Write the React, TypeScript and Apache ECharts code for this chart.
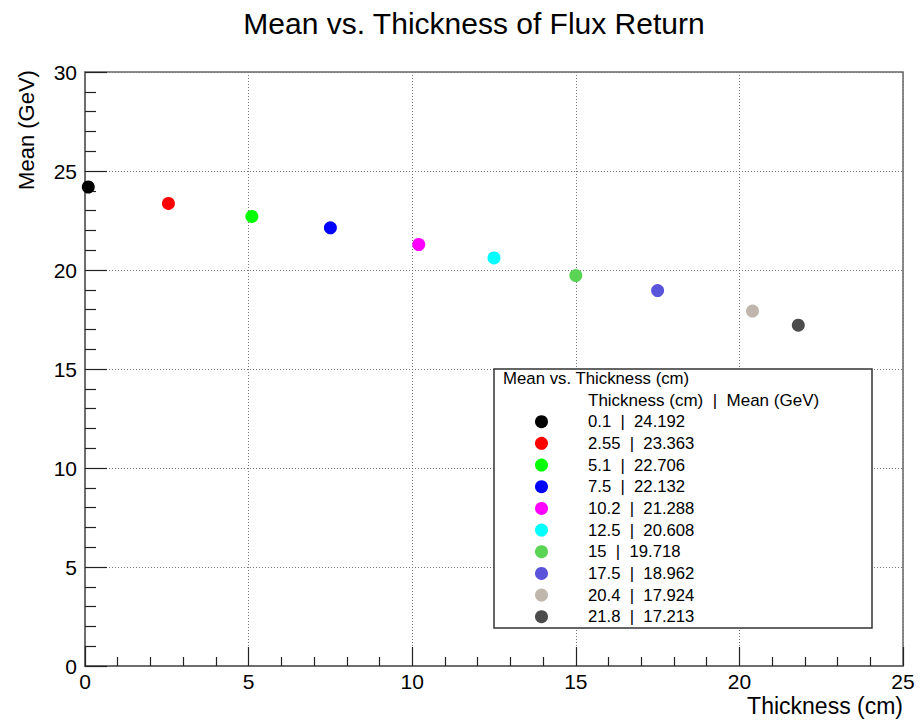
import React, { useEffect, useRef } from "react";
import * as echarts from "echarts";

const chartTitle = "Mean vs. Thickness of Flux Return";
const xAxisTitle = "Thickness (cm)";
const yAxisTitle = "Mean (GeV)";
const legendTitle = "Mean vs. Thickness (cm)";
const legendHeader = "Thickness (cm)  |  Mean (GeV)";

const thickness = [0.1, 2.55, 5.1, 7.5, 10.2, 12.5, 15, 17.5, 20.4, 21.8];
const meanGeV = [24.192, 23.363, 22.706, 22.132, 21.288, 20.608, 19.718, 18.962, 17.924, 17.213];
const markerColors = [
  "#000000",
  "#ff0000",
  "#00ff00",
  "#0000ff",
  "#ff00ff",
  "#00ffff",
  "#59d454",
  "#5954d9",
  "#c0b6ac",
  "#4c4c4c",
];

const xMin = 0;
const xMax = 25;
const yMin = 0;
const yMax = 30;
const majorStep = 5;

const FONT = "'Liberation Sans', Arial, Helvetica, sans-serif";

export default function App() {
  const ref = useRef<HTMLDivElement | null>(null);

  useEffect(() => {
    if (!ref.current) return;
    const chart = echarts.init(ref.current, undefined, { renderer: "svg" });

    const gridLeft = 85;
    const gridTop = 72;
    const gridRight = 922 - 903;
    const gridBottom = 723 - 666;

    // legend layout
    const boxX = 494;
    const boxY = 369;
    const boxW = 378;
    const boxH = 259;
    const rowY0 = 421.7;
    const rowStep = 21.67;
    const markerX = 541.5;
    const textX = 588;

    const legendElems: any[] = [
      {
        type: "rect",
        shape: { x: boxX, y: boxY, width: boxW, height: boxH },
        style: { fill: "#ffffff", stroke: "#333333", lineWidth: 1.5 },
        z: 100,
      },
      {
        type: "text",
        x: 503,
        y: 378.5,
        style: {
          text: legendTitle,
          fill: "#000",
          font: `16.8px ${FONT}`,
          textAlign: "left",
          textVerticalAlign: "middle",
        },
        z: 101,
      },
      {
        type: "text",
        x: textX,
        y: 400,
        style: {
          text: legendHeader,
          fill: "#000",
          font: `17px ${FONT}`,
          textAlign: "left",
          textVerticalAlign: "middle",
        },
        z: 101,
      },
    ];
    thickness.forEach((t, i) => {
      const cy = rowY0 + i * rowStep;
      legendElems.push({
        type: "circle",
        shape: { cx: markerX, cy, r: 6.5 },
        style: { fill: markerColors[i] },
        z: 101,
      });
      legendElems.push({
        type: "text",
        x: textX,
        y: cy,
        style: {
          text: `${t}  |  ${meanGeV[i]}`,
          fill: "#000",
          font: `16.7px ${FONT}`,
          textAlign: "left",
          textVerticalAlign: "middle",
        },
        z: 101,
      });
    });

    const option: any = {
      animation: false,
      backgroundColor: "#ffffff",
      textStyle: { fontFamily: FONT },
      grid: {
        left: gridLeft,
        top: gridTop,
        right: gridRight,
        bottom: gridBottom,
        show: true,
        borderColor: "#666666",
        borderWidth: 1.5,
        backgroundColor: "transparent",
      },
      xAxis: {
        type: "value",
        min: xMin,
        max: xMax,
        interval: majorStep,
        axisLine: { show: true, onZero: false, lineStyle: { color: "#666666", width: 1.5 } },
        axisTick: { show: true, inside: true, length: 19, lineStyle: { color: "#222222", width: 1.2 } },
        minorTick: { show: true, splitNumber: 5, length: 9, lineStyle: { color: "#222222", width: 1.2 } },
        splitLine: { show: true, lineStyle: { color: "#777777", type: [1, 2], width: 1 } },
        axisLabel: { color: "#000", fontSize: 21, margin: 5, fontFamily: FONT },
      },
      yAxis: {
        type: "value",
        min: yMin,
        max: yMax,
        interval: majorStep,
        axisLine: { show: true, onZero: false, lineStyle: { color: "#666666", width: 1.5 } },
        axisTick: { show: true, inside: true, length: 22, lineStyle: { color: "#222222", width: 1.2 } },
        minorTick: { show: true, splitNumber: 5, length: 11, lineStyle: { color: "#222222", width: 1.2 } },
        splitLine: { show: true, lineStyle: { color: "#777777", type: [1, 2], width: 1 } },
        axisLabel: { color: "#000", fontSize: 21, margin: 8, fontFamily: FONT },
      },
      series: [
        {
          type: "scatter",
          symbol: "circle",
          symbolSize: 13,
          itemStyle: { opacity: 1 },
          emphasis: { disabled: true },
          data: thickness.map((t, i) => ({
            value: [t, meanGeV[i]],
            itemStyle: { color: markerColors[i], opacity: 1 },
          })),
          z: 5,
        },
      ],
      graphic: [
        {
          type: "text",
          x: 474,
          y: 23,
          style: {
            text: chartTitle,
            fill: "#000",
            font: `30px ${FONT}`,
            textAlign: "center",
            textVerticalAlign: "middle",
          },
        },
        {
          type: "text",
          x: 903,
          y: 706,
          style: {
            text: xAxisTitle,
            fill: "#000",
            font: `23px ${FONT}`,
            textAlign: "right",
            textVerticalAlign: "middle",
          },
        },
        {
          type: "text",
          x: 26,
          y: 130,
          rotation: Math.PI / 2,
          style: {
            text: yAxisTitle,
            fill: "#000",
            font: `22px ${FONT}`,
            textAlign: "center",
            textVerticalAlign: "middle",
          },
        },
        ...legendElems,
      ],
    };

    chart.setOption(option);
    return () => {
      chart.dispose();
    };
  }, []);

  return (
    <div
      ref={ref}
      style={{ position: "fixed", left: 0, top: 0, width: 922, height: 723, background: "#fff" }}
    />
  );
}
